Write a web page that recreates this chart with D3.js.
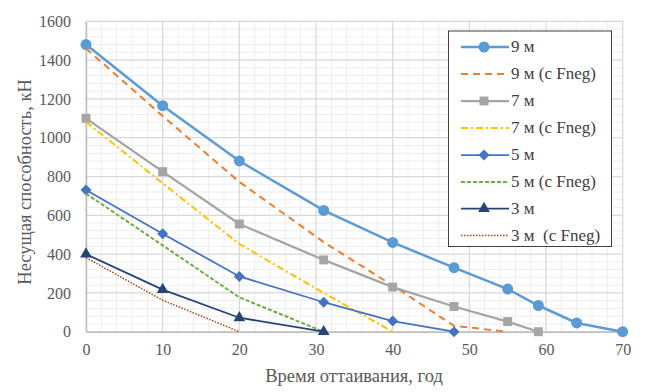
<!DOCTYPE html>
<html><head><meta charset="utf-8">
<script src="https://cdn.jsdelivr.net/npm/d3@7"></script>
<style>body{margin:0;background:#fff}svg{display:block}</style>
</head><body><svg id="c" width="650" height="392"></svg>
<script>
const xTicks = [0,10,20,30,40,50,60,70];
const yTicks = [0,200,400,600,800,1000,1200,1400,1600];
const s9  = [[0,1480],[10,1165],[20,880],[31,625],[40,460],[48,330],[55,220],[59,135],[64,45],[70,0]];
const s9f = [[0,1460],[10,1112],[20,772],[31,462],[40,238],[48,30],[55,0]];
const s7  = [[0,1100],[10,825],[20,555],[31,370],[40,230],[48,130],[55,52],[59,0]];
const s7f = [[0,1082],[10,765],[20,452],[31,200],[40,0]];
const s5  = [[0,730],[10,505],[20,285],[31,152],[40,55],[48,0]];
const s5f = [[0,712],[10,445],[20,177],[31,0]];
const s3  = [[0,400],[10,217],[20,72],[31,0]];
const s3f = [[0,382],[10,162],[20,0]];
const names = ["9 м","9 м (с Fneg)","7 м","7 м (с Fneg)","5 м","5 м (с Fneg)","3 м","3 м  (с Fneg)"];

const series = [
  {name:names[0], data:s9,  color:"#5b9bd5", w:2.5, dash:null, marker:"circle", ms:95},
  {name:names[1], data:s9f, color:"#ed7d31", w:2, dash:"7,5", marker:null},
  {name:names[2], data:s7,  color:"#a5a5a5", w:2.25, dash:null, marker:"square", ms:80},
  {name:names[3], data:s7f, color:"#ffc000", w:2, dash:"7,3,2,3", marker:null},
  {name:names[4], data:s5,  color:"#4472c4", w:1.75, dash:null, marker:"diamond", ms:60},
  {name:names[5], data:s5f, color:"#70ad47", w:2, dash:"4,2", marker:null},
  {name:names[6], data:s3,  color:"#264478", w:1.75, dash:null, marker:"triangle", ms:60},
  {name:names[7], data:s3f, color:"#9e480e", w:1.5, dash:"1.5,1.5", marker:null}
];
const svg = d3.select("#c");
const x = d3.scaleLinear().domain([0,70]).range([86,622.7]);
const y = d3.scaleLinear().domain([0,1600]).range([331.7,21.3]);
const font = '"Liberation Serif"';

const g = svg.append("g");
d3.range(0,1601,40).forEach(v=>{ if(v%200) g.append("line").attr("x1",x(0)).attr("x2",x(70)).attr("y1",y(v)).attr("y2",y(v)).attr("stroke","#eeeeee").attr("stroke-width",1);});
d3.range(0,71,2).forEach(v=>{ if(v%10) g.append("line").attr("y1",y(0)).attr("y2",y(1600)).attr("x1",x(v)).attr("x2",x(v)).attr("stroke","#eeeeee").attr("stroke-width",1);});
yTicks.forEach(v=>{ g.append("line").attr("x1",x(0)).attr("x2",x(70)).attr("y1",y(v)).attr("y2",y(v)).attr("stroke","#d9d9d9").attr("stroke-width",1.25);});
xTicks.forEach(v=>{ g.append("line").attr("y1",y(0)).attr("y2",y(1600)).attr("x1",x(v)).attr("x2",x(v)).attr("stroke","#d9d9d9").attr("stroke-width",1.25);});

const xa = svg.append("g").attr("transform",`translate(0,${y(0)})`).call(d3.axisBottom(x).tickValues(xTicks).tickFormat(d3.format("d")).tickSize(0).tickPadding(12));
const ya = svg.append("g").attr("transform",`translate(${x(0)},0)`).call(d3.axisLeft(y).tickValues(yTicks).tickFormat(d3.format("d")).tickSize(0).tickPadding(15));
[xa,ya].forEach(a=>{a.attr("font-family",null);a.select(".domain").attr("stroke","#bfbfbf").attr("stroke-width",1.5);
  a.selectAll("text").style("font-family",font).attr("font-size",16).attr("fill","#595959");});

const line = d3.line().x(d=>x(d[0])).y(d=>y(d[1]));
const symMap = {circle:d3.symbolCircle, square:d3.symbolSquare, diamond:d3.symbolSquare, triangle:d3.symbolTriangle};
const rot = m => m==="diamond" ? " rotate(45)" : "";
series.forEach(s=>{
  svg.append("path").datum(s.data).attr("d",line).attr("fill","none").attr("stroke",s.color)
    .attr("stroke-width",s.w).attr("stroke-dasharray",s.dash);
  if(s.marker){
    svg.append("g").selectAll("path").data(s.data).join("path")
      .attr("d",d3.symbol().type(symMap[s.marker]).size(s.ms))
      .attr("transform",d=>`translate(${x(d[0])},${y(d[1])})${rot(s.marker)}`).attr("fill",s.color);
  }
});

const L = svg.append("g");
L.append("rect").attr("x",448.5).attr("y",31).attr("width",163).attr("height",215.5).attr("fill","#fff").attr("stroke","#404040").attr("stroke-width",1);
const ly = [47,74,101,128,155,182,208.5,235.5];
series.forEach((s,i)=>{
  L.append("line").attr("x1",461).attr("x2",509).attr("y1",ly[i]).attr("y2",ly[i]).attr("stroke",s.color)
    .attr("stroke-width",s.w).attr("stroke-dasharray",s.dash);
  if(s.marker) L.append("path").attr("d",d3.symbol().type(symMap[s.marker]).size(s.ms)).attr("transform",`translate(484,${ly[i]})${rot(s.marker)}`).attr("fill",s.color);
  L.append("text").attr("x",511).attr("y",ly[i]+5).style("font-family",font).attr("font-size",17).attr("fill","#404040").style("white-space","pre").text(s.name);
});

svg.append("text").attr("x",354).attr("y",382).attr("text-anchor","middle").style("font-family",font).attr("font-size",18.5).attr("fill","#595959").text("Время оттаивания, год");
svg.append("text").attr("transform","translate(31,182) rotate(-90)").attr("text-anchor","middle").style("font-family",font).attr("font-size",18.5).attr("fill","#595959").text("Несущая способность, кН");
</script></body></html>
